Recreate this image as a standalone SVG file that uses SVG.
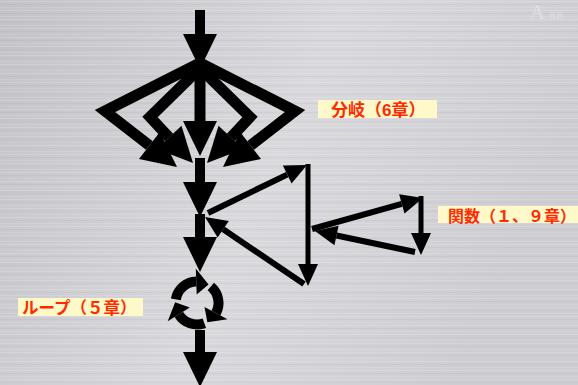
<svg xmlns="http://www.w3.org/2000/svg" width="578" height="385" viewBox="0 0 578 385">
<defs>
<linearGradient id="bg" x1="0" y1="0" x2="1" y2="0.3">
<stop offset="0" stop-color="#c2c2c7"/>
<stop offset="0.55" stop-color="#d9d9dd"/>
<stop offset="1" stop-color="#cdcdd2"/>
</linearGradient>
<pattern id="streak" width="578" height="9" patternUnits="userSpaceOnUse">
<rect x="0" y="1" width="578" height="1" fill="#ffffff" opacity="0.18"/>
<rect x="0" y="4" width="578" height="1" fill="#9a9aa0" opacity="0.12"/>
<rect x="0" y="7" width="578" height="1" fill="#ffffff" opacity="0.12"/>
</pattern>
<marker id="big" markerUnits="userSpaceOnUse" markerWidth="40" markerHeight="40" refX="0" refY="0" orient="auto" overflow="visible">
<path d="M0,-17 L35,0 L0,17 z" fill="#000"/>
</marker>
<marker id="small" markerUnits="userSpaceOnUse" markerWidth="30" markerHeight="30" refX="0" refY="0" orient="auto" overflow="visible">
<path d="M0,-10 L22,0 L0,10 z" fill="#000"/>
</marker>
<g id="loopArrow">
<path d="M175.83,299.27 A21.5,21.5 0 0 1 196.25,281.51" fill="none" stroke="#000" stroke-width="10"/>
<path d="M196.69,294.5 L195.81,268.5 L208.5,284.4 z" fill="#000"/>
</g>
</defs>
<style>
.thick{fill:none;stroke:#000;stroke-width:11;stroke-linejoin:miter;stroke-miterlimit:10}
.shaft{fill:none;stroke:#000;stroke-width:10}
.thin{fill:none;stroke:#000;stroke-width:6}
.vline{fill:none;stroke:#000;stroke-width:5}
.lbl{fill:#fff8c8}
.lt{font-family:"Liberation Sans","Noto Sans CJK JP",sans-serif;font-weight:bold;font-size:16px;fill:#ff2a00}
</style>
<rect x="0" y="0" width="578" height="385" fill="url(#bg)"/>
<rect x="0" y="0" width="578" height="385" fill="url(#streak)"/>
<g id="watermark" opacity="0.45">
<text x="530" y="19" font-family="Liberation Serif,serif" font-size="20" fill="#f0f0f4">A</text>
<text x="549" y="19" font-family="Liberation Serif,serif" font-size="11" fill="#f0f0f4">RR</text>
</g>
<g id="connectors">
<line class="shaft" x1="200" y1="10" x2="200" y2="34" marker-end="url(#big)"/>
<polyline class="thick" points="200,63 105,111 149.4,145.5" marker-end="url(#big)"/>
<polyline class="thick" points="200,68 150,117 169.1,137.4" marker-end="url(#big)"/>
<line class="thick" x1="200" y1="70" x2="200" y2="121" marker-end="url(#big)"/>
<polyline class="thick" points="200,68 250,117 230.9,137.4" marker-end="url(#big)"/>
<polyline class="thick" points="200,63 295,111 250.6,145.5" marker-end="url(#big)"/>
<line class="shaft" x1="200" y1="158" x2="200" y2="182" marker-end="url(#big)"/>
<line class="shaft" x1="200" y1="214" x2="200" y2="237" marker-end="url(#big)"/>
<line class="shaft" x1="200" y1="330" x2="200" y2="352" marker-end="url(#big)"/>
<line class="thin" x1="208" y1="213" x2="287.2" y2="174.6" marker-end="url(#small)"/>
<line class="vline" x1="308" y1="164" x2="308" y2="264" marker-end="url(#small)"/>
<line class="thin" x1="304" y1="284" x2="223.2" y2="229.3" marker-end="url(#small)"/>
<line class="thin" x1="312" y1="229" x2="401.8" y2="203.9" marker-end="url(#small)"/>
<line class="vline" x1="421" y1="196" x2="421" y2="233" marker-end="url(#small)"/>
<line class="thin" x1="415" y1="252" x2="336.5" y2="235.5" marker-end="url(#small)"/>
</g>
<g id="loop">
<use href="#loopArrow"/>
<use href="#loopArrow" transform="rotate(120 197 303)"/>
<use href="#loopArrow" transform="rotate(240 197 303)"/>
</g>
<g id="label-branch">
<rect class="lbl" x="318" y="100" width="119" height="18"/>
<text class="lt" x="331" y="116" font-size="17" style="font-size:17px">分岐（6章）</text>
</g>
<g id="label-func">
<rect class="lbl" x="438" y="206" width="140" height="17"/>
<text class="lt" x="448" y="222">関数（１、９章）</text>
</g>
<g id="label-loop">
<rect class="lbl" x="18" y="298" width="125" height="18"/>
<text class="lt" x="22" y="314" style="font-size:16.5px">ループ（５章）</text>
</g>
</svg>
